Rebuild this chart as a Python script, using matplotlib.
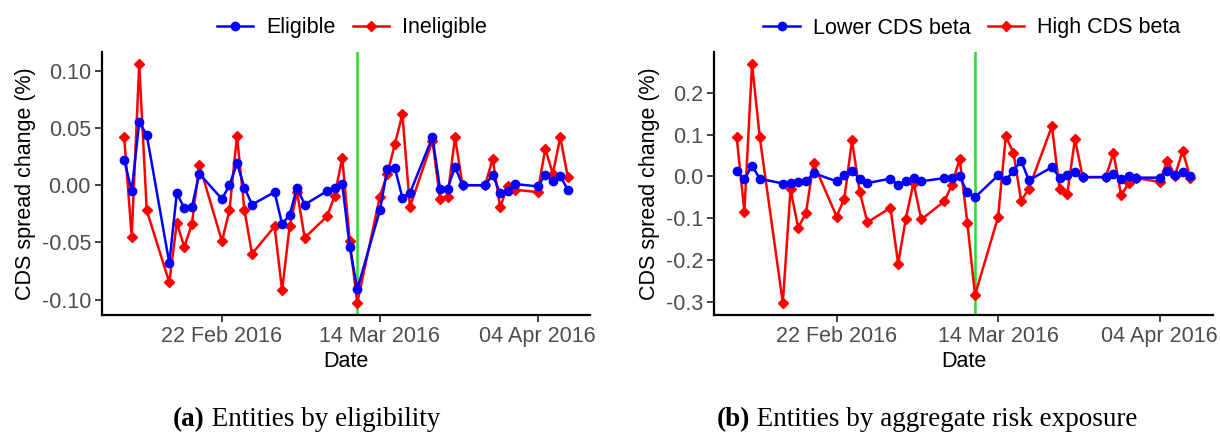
import matplotlib
matplotlib.use('Agg')
import matplotlib.pyplot as plt
import matplotlib.dates as mdates
import matplotlib.ticker as mticker
import numpy as np

plt.rcParams['font.family'] = ['Liberation Sans', 'DejaVu Sans']
plt.rcParams['axes.unicode_minus'] = False

dates = np.array(['2016-02-09', '2016-02-10', '2016-02-11', '2016-02-12',
                  '2016-02-15', '2016-02-16', '2016-02-17', '2016-02-18', '2016-02-19',
                  '2016-02-22', '2016-02-23', '2016-02-24', '2016-02-25', '2016-02-26',
                  '2016-02-29', '2016-03-01', '2016-03-02', '2016-03-03', '2016-03-04',
                  '2016-03-07', '2016-03-08', '2016-03-09', '2016-03-10', '2016-03-11',
                  '2016-03-14', '2016-03-15', '2016-03-16', '2016-03-17', '2016-03-18',
                  '2016-03-21', '2016-03-22', '2016-03-23', '2016-03-24', '2016-03-25',
                  '2016-03-28', '2016-03-29', '2016-03-30', '2016-03-31', '2016-04-01',
                  '2016-04-04', '2016-04-05', '2016-04-06', '2016-04-07', '2016-04-08'],
                 dtype='datetime64[D]')
event_date = np.datetime64('2016-03-11')
xtick_dates = np.array(['2016-02-22', '2016-03-14', '2016-04-04'], dtype='datetime64[D]')

# (a) eligibility
eligible = [0.022, -0.005, 0.055, 0.044, -0.068, -0.007, -0.020, -0.019, 0.010,
            -0.012, 0.000, 0.019, -0.002, -0.017, -0.006, -0.034, -0.026, -0.002,
            -0.017, -0.005, -0.002, 0.001, -0.054, -0.091, -0.022, 0.014, 0.015,
            -0.011, -0.007, 0.042, -0.003, -0.003, 0.016, 0.000, 0.000, 0.009,
            -0.007, -0.005, 0.001, -0.001, 0.009, 0.004, 0.008, -0.004]
ineligible = [0.042, -0.045, 0.106, -0.022, -0.085, -0.033, -0.054, -0.034, 0.018,
              -0.049, -0.022, 0.043, -0.022, -0.060, -0.036, -0.092, -0.036, -0.006,
              -0.046, -0.027, -0.009, 0.024, -0.049, -0.103, -0.010, 0.010, 0.036,
              0.062, -0.019, 0.039, -0.012, -0.010, 0.042, 0.000, 0.000, 0.023,
              -0.019, -0.001, -0.004, -0.006, 0.032, 0.010, 0.042, 0.007]

# (b) aggregate risk exposure
low_beta = [0.0125, -0.007, 0.026, -0.0055, -0.017, -0.0157, -0.0133, -0.0118, 0.0078,
            -0.0118, 0.0024, 0.0125, -0.0055, -0.0157,
            -0.0055, -0.021, -0.0118, -0.004, -0.0118, -0.004, -0.003, 0.0, -0.0384,
            -0.050, 0.0024, -0.0094, 0.014, 0.0376, -0.0094,
            0.022, -0.003, 0.0024, 0.010, -0.0016, -0.0016, 0.0047, -0.0055, 0.0,
            -0.003, -0.003, 0.0118, 0.004, 0.010, 0.0]
high_beta = [0.094, -0.084, 0.269, 0.094, -0.303, -0.031, -0.123, -0.088, 0.031,
             -0.096, -0.053, 0.086, -0.037, -0.110,
             -0.075, -0.209, -0.101, -0.015, -0.103, -0.060, -0.020, 0.042, -0.111,
             -0.284, -0.097, 0.096, 0.056, -0.059, -0.029,
             0.120, -0.031, -0.041, 0.090, -0.002, -0.002, 0.056, -0.045, -0.016,
             -0.004, -0.013, 0.038, 0.002, 0.061, -0.003]

W, H = 1220, 434
fig = plt.figure(figsize=(W / 100, H / 100), dpi=100)

panels = [
    dict(rect=[102, 52, 590, 315], s1=eligible, s2=ineligible,
         labels=('Eligible', 'Ineligible'), yticks=[-0.10, -0.05, 0.0, 0.05, 0.10],
         fmt='%.2f', leg_x=352, caption=('(a)', ' Entities by eligibility'), cap_x=306),
    dict(rect=[714, 52, 1213, 315], s1=low_beta, s2=high_beta,
         labels=('Lower CDS beta', 'High CDS beta'), yticks=[-0.3, -0.2, -0.1, 0.0, 0.1, 0.2],
         fmt='%.1f', leg_x=972, caption=('(b)', ' Entities by aggregate risk exposure'), cap_x=926),
]

cap_size = 19.5
for p in panels:
    x0, y0, x1, y1 = p['rect']
    ax = fig.add_axes([x0 / W, 1 - y1 / H, (x1 - x0) / W, (y1 - y0) / H])
    l1, = ax.plot(dates, p['s1'], color='#0000FF', lw=1.8, marker='o', ms=6,
                  label=p['labels'][0], zorder=3)
    l2, = ax.plot(dates, p['s2'], color='#FF0000', lw=1.8, marker='D', ms=5,
                  label=p['labels'][1], zorder=2)
    ax.axvline(event_date, color='#22e022', lw=1.8, zorder=1)
    ax.margins(x=0.05, y=0.05)

    ax.set_xticks(xtick_dates)
    ax.xaxis.set_major_formatter(mdates.DateFormatter('%d %b %Y'))
    ax.set_yticks(p['yticks'])
    ax.yaxis.set_major_formatter(mticker.FormatStrFormatter(p['fmt']))

    for side in ['top', 'right']:
        ax.spines[side].set_visible(False)
    for side in ['left', 'bottom']:
        ax.spines[side].set_linewidth(1.6)
        ax.spines[side].set_color('black')
    ax.tick_params(axis='both', length=5, width=1.3, color='#333333',
                   labelsize=15.5, labelcolor='#4D4D4D', pad=3)
    ax.set_xlabel('Date', fontsize=15.5, color='black', labelpad=3)
    ax.set_ylabel('CDS spread change (%)', fontsize=15.5, color='black', labelpad=4)

    ax.legend(handles=[l1, l2], loc='center', ncol=2, frameon=False,
              bbox_to_anchor=(p['leg_x'] / W, 1 - 28 / H), bbox_transform=fig.transFigure,
              fontsize=15.5, handlelength=1.7, handletextpad=0.6, columnspacing=0.8,
              borderaxespad=0)

    cap_y = 1 - 420 / H
    t1 = fig.text(p['cap_x'] / W, cap_y, p['caption'][0] + p['caption'][1], ha='center',
                  va='center', fontsize=cap_size, family='Liberation Serif', alpha=0)
    # bold label then plain text, centred together
    fig.canvas.draw()
    r = fig.canvas.get_renderer()
    total_w = t1.get_window_extent(r).width
    left = p['cap_x'] - total_w / 2
    ta = fig.text(left / W, cap_y, p['caption'][0], ha='left', va='center',
                  fontsize=cap_size, family='Liberation Serif', fontweight='bold')
    wa = ta.get_window_extent(r).width
    fig.text((left + wa) / W, cap_y, p['caption'][1], ha='left', va='center',
             fontsize=cap_size, family='Liberation Serif')

fig.savefig('out.png', dpi=100)
